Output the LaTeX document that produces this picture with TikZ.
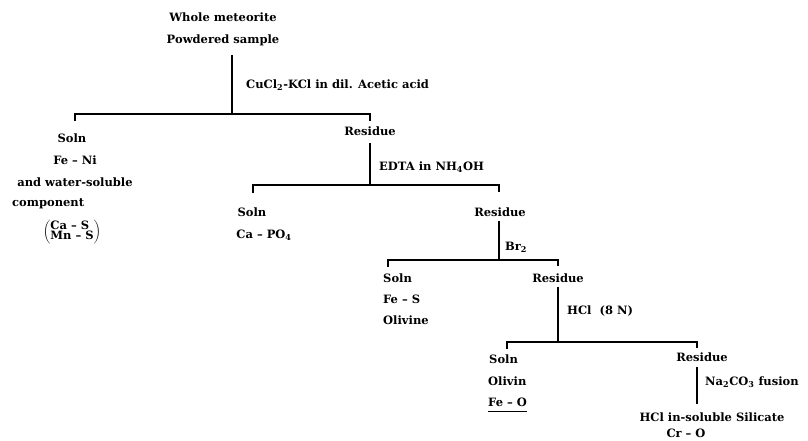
\documentclass[tikz,border=0pt]{standalone}
\usepackage{fontspec}
\setmainfont{DejaVu Serif}
\begin{document}
\begin{tikzpicture}[x=1pt,y=-1pt,
  txt/.style={inner sep=0pt,font=\fontsize{11.5}{13}\selectfont\bfseries},
  stem/.style={line width=1.8pt},
  bar/.style={line width=1.5pt},
  tick/.style={line width=1.2pt}]
\useasboundingbox (0,0) rectangle (808,441);
% top
\node[txt] (t1) at (223,17) {Whole meteorite};
\node[txt] (t2) at (223,40) {Powdered sample};
\coordinate (a0) at (232,55);
\coordinate (a1) at (232,114);
\coordinate (a1l) at (75,114);
\coordinate (a1r) at (370,114);
\coordinate (a1lt) at (75,121);
\coordinate (a1rt) at (370,121);
\node[txt,anchor=west] (l1) at (246,85) {CuCl\textsubscript{2}-KCl in dil. Acetic acid};
\draw[stem] (a0) -- (a1);
\draw[bar] (a1lt) -- (a1l) -- (a1r) -- (a1rt);
% left solution
\node[txt] (s1) at (72,138) {Soln};
\node[txt] (s1b) at (75,160) {Fe – Ni};
\node[txt] (s1c) at (75,182) {and water-soluble};
\node[txt,anchor=west] (s1d) at (12,204) {component};
\node[txt] (s1e) at (72,232) {$\left(\vcenter{\hbox{\begin{tabular}{@{}l@{}}Ca – S\\[-3pt] Mn – S\end{tabular}}}\right)$};
% residue 1
\node[txt] (r1) at (370,131) {Residue};
\coordinate (b0) at (370,143);
\coordinate (b1) at (370,185);
\coordinate (b1l) at (253,185);
\coordinate (b1r) at (499,185);
\coordinate (b1lt) at (253,193);
\coordinate (b1rt) at (499,192);
\node[txt,anchor=west] (l2) at (379,167) {EDTA in NH\textsubscript{4}OH};
\draw[stem] (b0) -- (b1);
\draw[bar] (b1lt) -- (b1l) -- (b1r) -- (b1rt);
\node[txt] (s2) at (252,212) {Soln};
\node[txt] (s2b) at (264,235) {Ca – PO\textsubscript{4}};
% residue 2
\node[txt] (r2) at (500,212) {Residue};
\coordinate (c0) at (499,221);
\coordinate (c1) at (499,260);
\coordinate (c1l) at (388,260);
\coordinate (c1r) at (558,260);
\coordinate (c1lt) at (388,267);
\coordinate (c1rt) at (558,266);
\node[txt,anchor=west] (l3) at (505,247) {Br\textsubscript{2}};
\draw[stem] (c0) -- (c1);
\draw[bar] (c1lt) -- (c1l) -- (c1r) -- (c1rt);
\node[txt,anchor=west] (s3) at (383,278) {Soln};
\node[txt,anchor=west] (s3b) at (383,299) {Fe – S};
\node[txt,anchor=west] (s3c) at (383,320) {Olivine};
% residue 3
\node[txt] (r3) at (558,278) {Residue};
\coordinate (d0) at (558,287);
\coordinate (d1) at (558,342);
\coordinate (d1l) at (507,342);
\coordinate (d1r) at (697,342);
\coordinate (d1lt) at (507,349);
\coordinate (d1rt) at (697,348);
\node[txt,anchor=west] (l4) at (567,311) {HCl\ \ (8 N)};
\draw[stem] (d0) -- (d1);
\draw[bar] (d1lt) -- (d1l) -- (d1r) -- (d1rt);
\node[txt,anchor=west] (s4) at (489,359) {Soln};
\node[txt,anchor=west] (s4b) at (488,381) {Olivin};
\node[txt,anchor=west] (s4c) at (488,402) {Fe – O};
\path (s4c.south west) ++(0,5) coordinate (u0) (s4c.south east) ++(0,5) coordinate (u1);
\draw[bar] (u0) -- (u1);
% residue 4
\node[txt] (r4) at (702,357) {Residue};
\coordinate (e0) at (697,367);
\coordinate (e1) at (697,404);
\node[txt,anchor=west] (l5) at (705,382) {Na\textsubscript{2}CO\textsubscript{3} fusion};
\draw[stem] (e0) -- (e1);
\node[txt] (f1) at (712,417) {HCl in-soluble Silicate};
\node[txt] (f2) at (686,433) {Cr – O};
\end{tikzpicture}
\end{document}
